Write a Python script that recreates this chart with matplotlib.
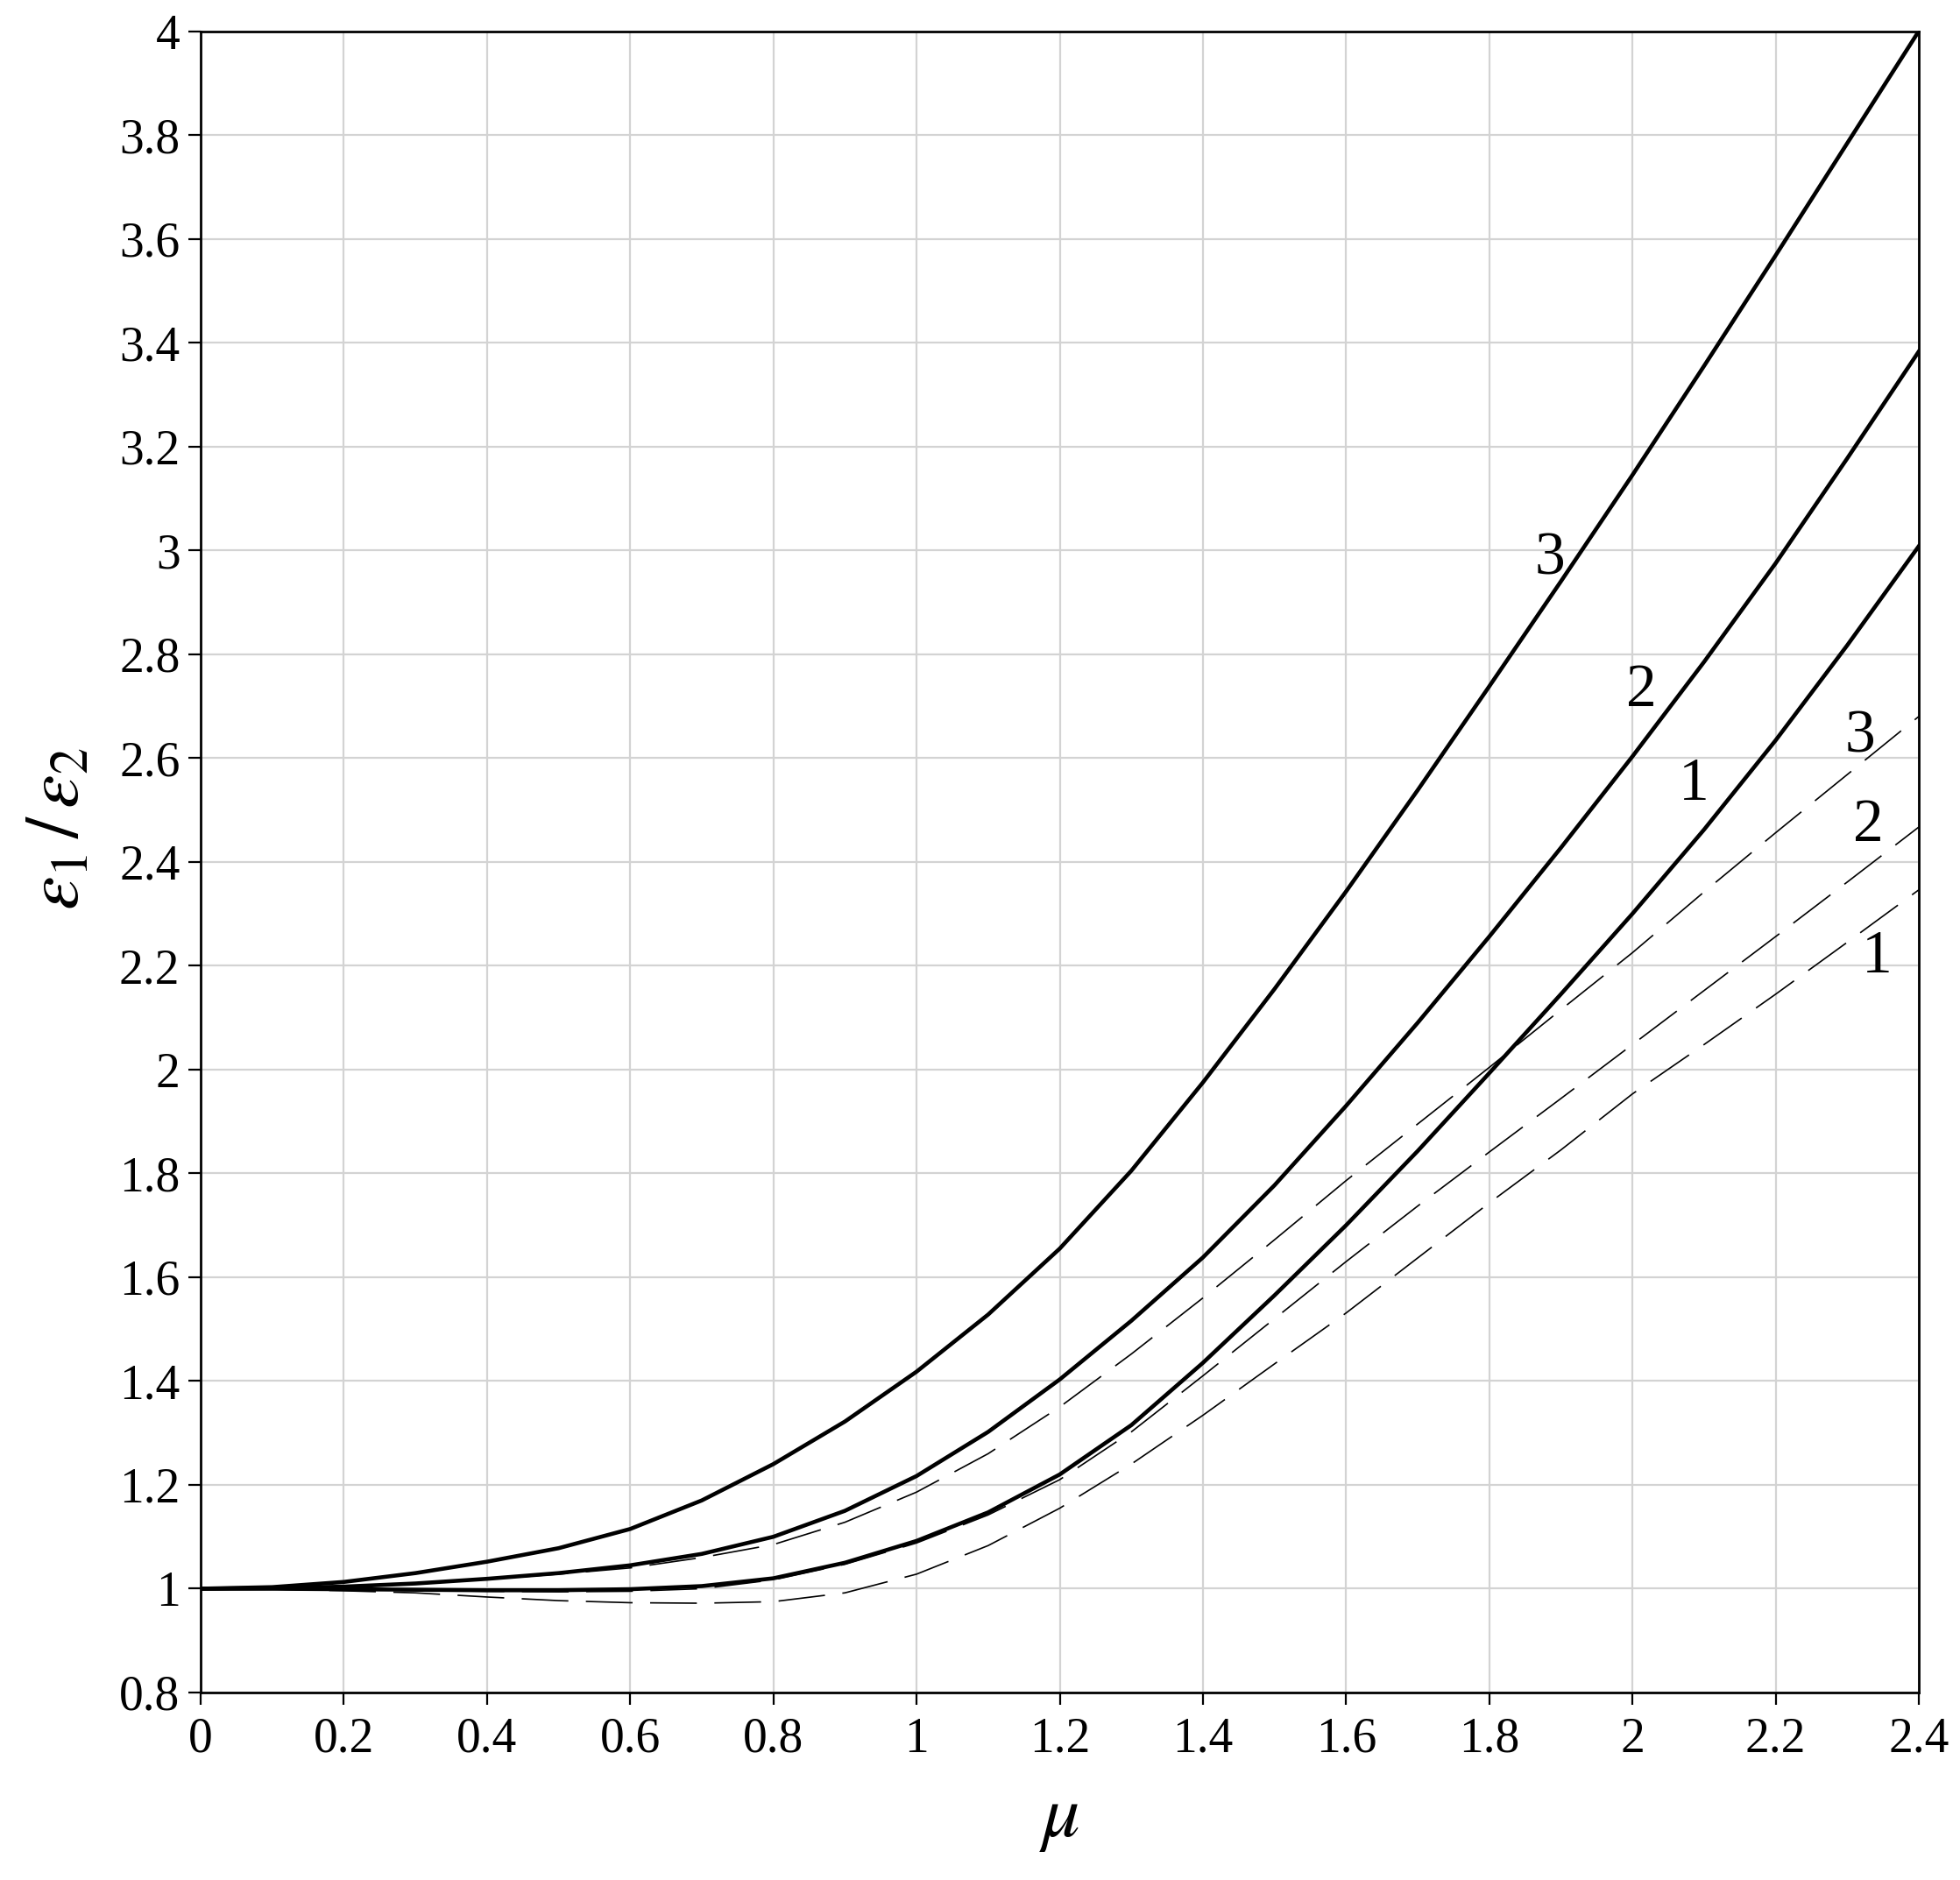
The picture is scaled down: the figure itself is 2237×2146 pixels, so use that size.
import matplotlib
matplotlib.use("Agg")
import matplotlib.pyplot as plt
import numpy as np

plt.rcParams["font.family"] = ["Liberation Serif", "DejaVu Serif"]
plt.rcParams["mathtext.fontset"] = "stix"

# mu values
mu = np.round(np.arange(0, 2.41, 0.1), 1)

# solid curves (eps1/eps2)
solid_1 = [1.000, 1.000, 0.999, 0.998, 0.997, 0.997, 0.999, 1.005, 1.020, 1.050,
           1.092, 1.147, 1.220, 1.315, 1.435, 1.565, 1.700, 1.843, 1.993, 2.145,
           2.300, 2.462, 2.634, 2.817, 3.008]
solid_2 = [1.000, 1.001, 1.004, 1.010, 1.019, 1.030, 1.045, 1.067, 1.100, 1.150,
           1.217, 1.302, 1.403, 1.516, 1.638, 1.777, 1.930, 2.090, 2.256, 2.427,
           2.603, 2.785, 2.975, 3.177, 3.383]
solid_3 = [1.000, 1.003, 1.013, 1.030, 1.052, 1.078, 1.115, 1.170, 1.240, 1.322,
           1.418, 1.528, 1.655, 1.805, 1.975, 2.155, 2.343, 2.538, 2.738, 2.940,
           3.145, 3.355, 3.568, 3.784, 4.000]

# dashed curves
dashed_1 = [1.000, 0.999, 0.996, 0.992, 0.984, 0.977, 0.973, 0.972, 0.975, 0.992,
            1.028, 1.083, 1.155, 1.240, 1.334, 1.433, 1.531, 1.637, 1.743, 1.845,
            1.953, 2.048, 2.145, 2.245, 2.346]
dashed_2 = [1.000, 1.000, 0.999, 0.997, 0.995, 0.994, 0.995, 1.000, 1.017, 1.047,
            1.088, 1.142, 1.210, 1.302, 1.410, 1.520, 1.630, 1.737, 1.841, 1.944,
            2.048, 2.152, 2.256, 2.361, 2.467]
dashed_3 = [1.000, 1.001, 1.003, 1.009, 1.018, 1.028, 1.040, 1.060, 1.085, 1.128,
            1.186, 1.260, 1.350, 1.452, 1.560, 1.672, 1.786, 1.895, 2.004, 2.115,
            2.225, 2.342, 2.456, 2.568, 2.680]

# curve number labels: (text, mu, value)
labels = [("3", 1.885, 2.982), ("2", 2.012, 2.729), ("1", 2.086, 2.548),
          ("3", 2.318, 2.640), ("2", 2.330, 2.469), ("1", 2.342, 2.216)]

xticks = np.round(np.arange(0, 2.41, 0.2), 1)
yticks = np.round(np.arange(0.8, 4.01, 0.2), 1)

W, H = 2237, 2146
fig = plt.figure(figsize=(W / 100, H / 100), dpi=100)
ax = fig.add_axes([229 / W, 1 - 1932 / H, (2190 - 229) / W, (1932 - 35.5) / H])

for ys in (solid_1, solid_2, solid_3):
    ax.plot(mu, ys, color="black", lw=3.3, solid_joinstyle="round", zorder=3)
for ys in (dashed_1, dashed_2, dashed_3):
    ax.plot(mu, ys, color="black", lw=1.2, zorder=3, dashes=(32, 12))

for txt, x, y in labels:
    ax.text(x, y, txt, fontsize=50, ha="center", va="center", zorder=4)

ax.set_xlim(0, 2.4)
ax.set_ylim(0.8, 4.0)
ax.set_xticks(xticks)
ax.set_yticks(yticks)
ax.set_xticklabels([f"{v:g}" for v in xticks])
ax.set_yticklabels([f"{v:g}" for v in yticks])
ax.tick_params(direction="out", length=10, width=1.6, labelsize=40, pad=7)
ax.tick_params(axis="x", pad=10)

ax.grid(True, color="#d3d3d3", lw=1.6, zorder=0)
ax.set_axisbelow(True)
for s in ax.spines.values():
    s.set_linewidth(2)

ax.set_xlabel(r"$\mu$", fontsize=62)
ax.set_ylabel(r"$\varepsilon_1\,/\,\varepsilon_2$", fontsize=62)
ax.xaxis.set_label_coords(0.5, -0.055)
ax.yaxis.set_label_coords(-0.062, 0.52)

fig.savefig("out.png", dpi=100)
